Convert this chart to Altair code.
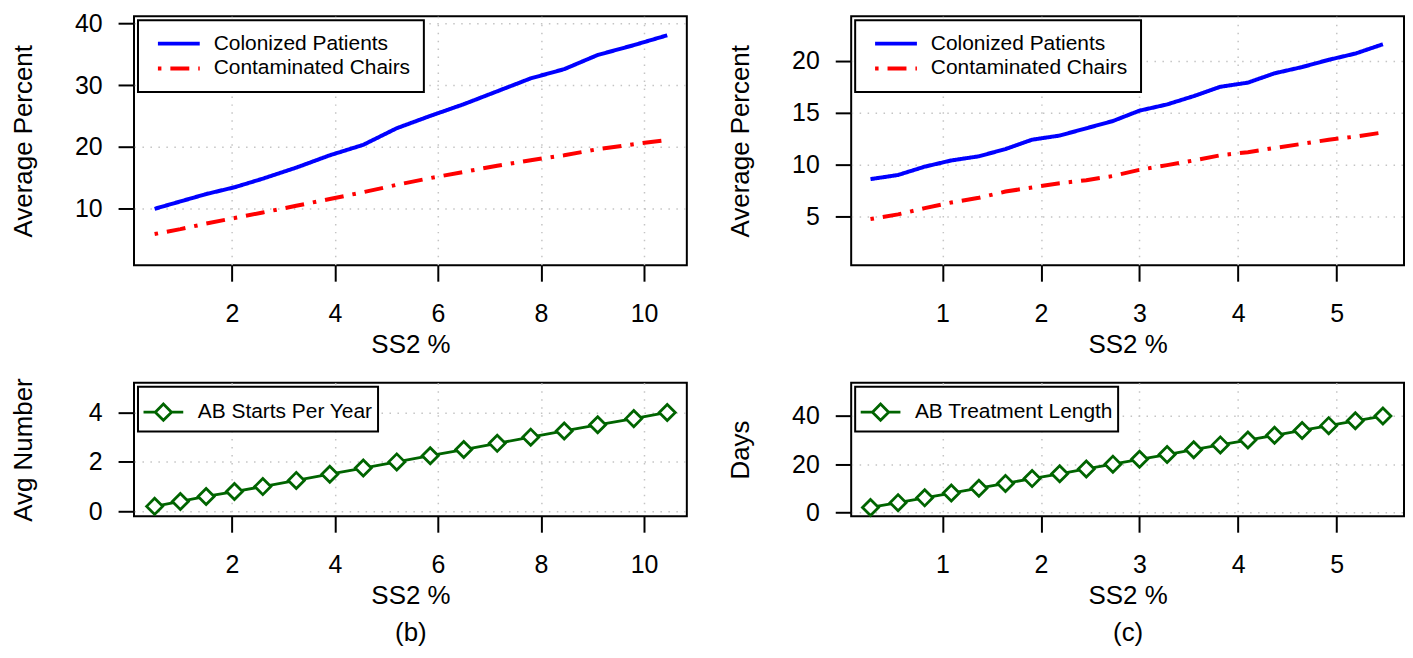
import altair as alt
import pandas as pd

FONT = "Liberation Sans"
BLUE = "#0000FF"
RED = "#FF0000"
GREEN = "#006400"

# ---------------- data ----------------
ss2_b = [0.5, 1.0, 1.5, 2.05, 2.6, 3.25, 3.9, 4.55, 5.2, 5.85, 6.5, 7.15, 7.8, 8.45, 9.1, 9.8, 10.45]
colonized_b = [9.9, 11.1, 12.3, 13.4, 14.8, 16.6, 18.6, 20.3, 23.0, 25.0, 26.9, 29.0, 31.1, 32.6, 34.9, 36.5, 38.1]
chairs_b = [5.8, 6.6, 7.5, 8.4, 9.3, 10.4, 11.5, 12.6, 13.8, 14.9, 15.9, 16.9, 17.8, 18.6, 19.6, 20.4, 21.1]
ab_starts_b = [0.2, 0.4, 0.6, 0.8, 1.0, 1.25, 1.5, 1.75, 2.0, 2.25, 2.5, 2.75, 3.0, 3.25, 3.5, 3.75, 4.0]

ss2_c = [0.27, 0.55, 0.82, 1.09, 1.37, 1.64, 1.91, 2.19, 2.46, 2.73, 3.0, 3.28, 3.55, 3.82, 4.1, 4.37, 4.65, 4.92, 5.19, 5.47]
colonized_c = [8.6, 9.0, 9.8, 10.4, 10.8, 11.5, 12.4, 12.8, 13.5, 14.2, 15.2, 15.8, 16.6, 17.5, 17.9, 18.8, 19.4, 20.1, 20.7, 21.6]
chairs_c = [4.75, 5.2, 5.8, 6.35, 6.8, 7.4, 7.8, 8.2, 8.5, 8.9, 9.5, 9.95, 10.4, 10.9, 11.2, 11.6, 12.0, 12.4, 12.7, 13.1]
ab_length_c = [2, 4, 6, 8, 10, 12, 14, 16, 18, 20, 22, 24, 26, 28, 30, 32, 34, 36, 38, 40]

SERIES = ["Colonized Patients", "Contaminated Chairs"]
x_ticks_b = [2, 4, 6, 8, 10]
x_ticks_c = [1, 2, 3, 4, 5]

W, H_TOP, H_BOT = 555, 250, 134
# legend symbols (unit path coordinates, scaled by sqrt(symbolSize)/2)
LINE_PATH = "M-2.47,0L2.47,0"
DIAMOND_PATH = "M-1.05,0L-0.43,0M0.43,0L1.05,0M-0.43,0L0,-0.43L0.43,0L0,0.43Z"


def x_axis(ticks, title):
    return alt.Axis(values=ticks, title=title, titleY=88, titleBaseline="alphabetic",
                    titleLineHeight=37, labelBaseline="alphabetic", labelPadding=40)


def y_axis(ticks, title):
    return alt.Axis(values=ticks, title=title, titleX=-103, titleBaseline="alphabetic",
                    labelPadding=16)


def top_panel(xs, col, chairs, xdom, ydom, xticks, yticks):
    n = len(xs)
    df = pd.DataFrame({"x": xs + xs, "y": col + chairs,
                       "series": [SERIES[0]] * n + [SERIES[1]] * n})
    leg = alt.Legend(title=None, orient="top-left", offset=4, padding=13,
                     strokeColor="black", fillColor="white",
                     labelFont=FONT, labelFontSize=21, labelColor="black", labelLimit=500,
                     symbolType=LINE_PATH, symbolSize=289, symbolStrokeWidth=4,
                     symbolOffset=17.5, labelOffset=24.5, rowPadding=3)
    return alt.Chart(df).mark_line(strokeWidth=4, strokeCap="butt").encode(
        x=alt.X("x:Q", scale=alt.Scale(domain=xdom, nice=False, zero=False),
                axis=x_axis(xticks, "SS2 %")),
        y=alt.Y("y:Q", scale=alt.Scale(domain=ydom, nice=False, zero=False),
                axis=y_axis(yticks, "Average Percent")),
        color=alt.Color("series:N", scale=alt.Scale(domain=SERIES, range=[BLUE, RED]), legend=leg),
        strokeDash=alt.StrokeDash("series:N",
                                  scale=alt.Scale(domain=SERIES, range=[[1, 0], [3.5, 9, 19, 9]]),
                                  legend=leg),
    ).properties(width=W, height=H_TOP)


def bottom_panel(xs, ys, label, ytitle, xdom, ydom, xticks, yticks, tag):
    df = pd.DataFrame({"x": xs, "y": ys, "series": [label] * len(xs)})
    xenc = alt.X("x:Q", scale=alt.Scale(domain=xdom, nice=False, zero=False),
                 axis=x_axis(xticks, ["SS2 %", tag]))
    yenc = alt.Y("y:Q", scale=alt.Scale(domain=ydom, nice=False, zero=False),
                 axis=y_axis(yticks, ytitle))
    leg = alt.Legend(title=None, orient="top-left", offset=4, padding=5,
                     strokeColor="black", fillColor="white",
                     labelFont=FONT, labelFontSize=21, labelColor="black", labelLimit=500,
                     symbolType=DIAMOND_PATH, symbolSize=1444, symbolStrokeWidth=2.8,
                     symbolStrokeColor=GREEN, symbolFillColor="white",
                     symbolOffset=0, labelOffset=14)
    line = alt.Chart(df).mark_line(strokeWidth=2.8).encode(
        x=xenc, y=yenc,
        color=alt.Color("series:N", scale=alt.Scale(domain=[label], range=[GREEN]), legend=leg),
    )
    pts = alt.Chart(df).mark_point(shape="diamond", size=260, filled=True, fill="white",
                                   stroke=GREEN, strokeWidth=2.8, opacity=1).encode(x=xenc, y=yenc)
    return alt.layer(line, pts).properties(width=W, height=H_BOT)


tl = top_panel(ss2_b, colonized_b, chairs_b, [0.1, 10.83], [0.73, 41.2], x_ticks_b, [10, 20, 30, 40])
bl = bottom_panel(ss2_b, ab_starts_b, "AB Starts Per Year", "Avg Number", [0.1, 10.83], [-0.2, 5.2],
                  x_ticks_b, [0, 2, 4], "(b)")
tr = top_panel(ss2_c, colonized_c, chairs_c, [0.074, 5.684], [0.3, 24.3], x_ticks_c, [5, 10, 15, 20])
br = bottom_panel(ss2_c, ab_length_c, "AB Treatment Length", "Days", [0.074, 5.684], [-1.65, 53.8],
                  x_ticks_c, [0, 20, 40], "(c)")

RES = dict(x="independent", y="independent", color="independent", strokeDash="independent")

chart = alt.concat(tl, tr, bl, br, columns=2, spacing={"row": 118, "column": 165},
                   bounds="flush").resolve_scale(**RES).properties(
    padding={"left": 0.5, "top": 1, "right": 0, "bottom": 0}
).configure_axis(
    labelFont=FONT, labelFontSize=25, labelColor="black",
    titleFont=FONT, titleFontSize=26, titleFontWeight="normal", titleColor="black",
    tickColor="black", tickSize=16, tickWidth=2, domain=False,
    gridColor="#c4c4c4", gridDash=[1.5, 6.5], gridWidth=1.5,
    labelFlush=False, labelOverlap=False,
).configure_view(stroke="black", strokeWidth=2).configure_legend(strokeWidth=2)

chart.save("out.html", embed_options={"renderer": "svg", "actions": False})
